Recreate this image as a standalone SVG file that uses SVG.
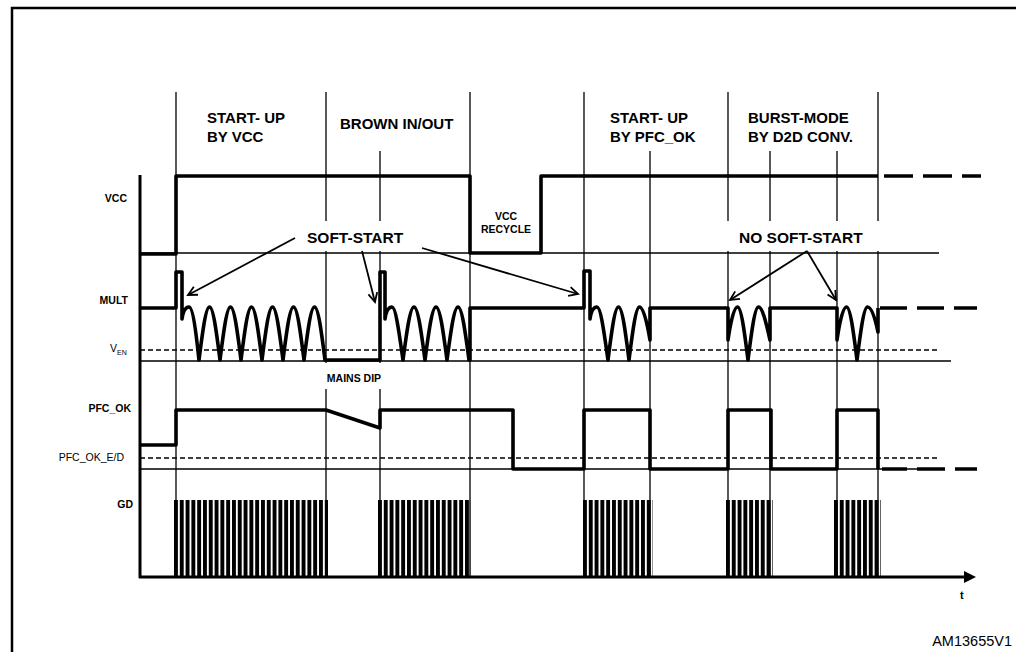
<svg xmlns="http://www.w3.org/2000/svg" width="1016" height="652" viewBox="0 0 1016 652">
<defs>
<style>
.t{font-family:"Liberation Sans",Arial,sans-serif;fill:#000}
.b{font-weight:bold}
.h{font-size:15px;font-weight:bold}
.lab{font-size:10.5px;font-weight:bold}
.thin{stroke:#000;stroke-width:1.3;fill:none}
.dash{stroke:#000;stroke-width:1.3;fill:none;stroke-dasharray:5 3}
.wave{stroke:#000;stroke-width:3.6;fill:none;stroke-linejoin:round}
.wdash{stroke:#000;stroke-width:3.6;fill:none;stroke-dasharray:27 10}
.gd{stroke:#000;stroke-width:77;fill:none;stroke-dasharray:3.9 1.9}
.arr{stroke:#000;stroke-width:1.8;fill:none;marker-end:url(#ah)}
</style>
<marker id="ah" markerUnits="userSpaceOnUse" markerWidth="12" markerHeight="12" refX="10" refY="6" orient="auto">
<path d="M1,1.5 L10,6 L1,10.5" fill="none" stroke="#000" stroke-width="1.8"/>
</marker>
</defs>
<rect width="1016" height="652" fill="#fff"/>
<path d="M12,660 V8 H1020" fill="none" stroke="#000" stroke-width="2.5"/>

<g id="grid">
<path class="thin" d="M176,92 V577 M326,92 V577 M470,92 V577 M584,92 V577 M728,92 V577 M878,92 V577 M380,151 V577 M650,151 V577 M770,151 V577 M837,151 V577"/>
<path class="thin" d="M140,253 H939 M140,361 H951 M140,469 H938"/>
<path class="dash" d="M140,350 H939 M140,458 H938"/>
</g>

<g id="axes">
<path d="M140,175 V578 M139,577 H967" stroke="#000" stroke-width="3" fill="none"/>
<polygon points="964,571 976,577 964,583" fill="#000"/>
<text class="t b" x="960" y="599" font-size="11">t</text>
</g>

<g id="masks" fill="#fff">
<rect x="298" y="221" width="120" height="30"/>
<rect x="726" y="221" width="156" height="30"/>
<rect x="320" y="363" width="68" height="26"/>
</g>

<g id="phases">
<text class="t h" x="207" y="123">START- UP</text>
<text class="t h" x="207" y="141.5">BY VCC</text>
<text class="t h" x="340" y="129">BROWN IN/OUT</text>
<text class="t h" x="610" y="123">START- UP</text>
<text class="t h" x="610" y="141.5">BY PFC_OK</text>
<text class="t h" x="748" y="123">BURST-MODE</text>
<text class="t h" x="748" y="141.5">BY D2D CONV.</text>
</g>

<g id="vcc">
<text class="t lab" x="127" y="201.5" text-anchor="end">VCC</text>
<path class="wave" d="M140,254 H176 V176 H470 V253 H541 V176 H878"/>
<path class="wdash" d="M884,176 H981" style="stroke-dasharray:29 10"/>
<text class="t lab" x="506" y="220" text-anchor="middle">VCC</text>
<text class="t lab" x="506" y="233" text-anchor="middle">RECYCLE</text>
</g>

<g id="mult">
<text class="t lab" x="128" y="303.5" text-anchor="end">MULT</text>
<path class="wave" d="M140,308 H176 V272 H182 V319 C183,312 185.5,307 189,307 C192.8,307 196.1,332.85 199,360
c3.42,-27.15 6.7,-53 10.5,-53 c3.8,0 7.08,25.85 10.5,53
c3.42,-27.15 6.7,-53 10.5,-53 c3.8,0 7.08,25.85 10.5,53
c3.42,-27.15 6.7,-53 10.5,-53 c3.8,0 7.08,25.85 10.5,53
c3.42,-27.15 6.7,-53 10.5,-53 c3.8,0 7.08,25.85 10.5,53
c3.42,-27.15 6.7,-53 10.5,-53 c3.8,0 7.08,25.85 10.5,53
c3.42,-27.15 6.7,-53 10.5,-53 c3.8,0 7.08,25.85 10.5,53
H380 V272 H385 V319 C386,312 388.5,307 392,307 C395.8,307 399.1,332.85 403,360
c3.58,-27.15 7,-53 11,-53 c4,0 7.42,25.85 11,53
c3.58,-27.15 7,-53 11,-53 c4,0 7.42,25.85 11,53
c3.58,-27.15 7,-53 11,-53 c4,0 7.42,25.85 11,53
H470 V308 H584 V271 H590 V319 C591,312 593.5,307 597,307 C600.8,307 604.1,332.85 608,360
c3.42,-27.15 6.7,-53 10.5,-53 c3.8,0 7.08,25.85 10.5,53
c3.42,-27.15 6.7,-53 10.5,-53 C643.3,307 647,322 650,340 V308 H728 V340
C730,326 733.5,307 737.5,307 C741.3,307 744.6,332.85 748,360
c3.42,-27.15 6.7,-53 10.5,-53 C762.3,307 766,322 770,340 V308 H837 V340
C839,326 842.5,307 846.5,307 C850.3,307 853.6,332.85 857,360
c3.42,-27.15 6.7,-53 10.5,-53 C871.3,307 875,318 878,332 V308"/>
<path class="wdash" d="M880,308 H977"/>
<text class="t" x="110" y="352" font-size="10.5" fill="#222">V<tspan font-size="7" dy="3">EN</tspan></text>
<text class="t lab" x="354" y="382" text-anchor="middle">MAINS DIP</text>
</g>

<g id="pfc_ok">
<text class="t lab" x="131" y="411.5" text-anchor="end">PFC_OK</text>
<path class="wave" d="M140,445 H176 V410 H326 L380,428 V410 H513 V469 H584 V410 H650 V469 H728 V410 H771 V469 H837 V410 H878 V469"/>
<path class="wdash" d="M882,469 H977" style="stroke-dasharray:25 10 28 10"/>
<text class="t" x="124" y="461" font-size="10.5" text-anchor="end" fill="#222">PFC_OK_E/D</text>
</g>

<g id="gd">
<text class="t lab" x="133" y="507.5" text-anchor="end">GD</text>
<path class="gd" d="M174,538.5 H328 M378,538.5 H471 M583,538.5 H653 M726,538.5 H773 M834,538.5 H881"/>
</g>

<g id="callouts">
<text class="t b" x="307" y="243" font-size="15.5">SOFT-START</text>
<text class="t b" x="739" y="243" font-size="15.5">NO SOFT-START</text>
</g>

<g id="connectors">
<path class="arr" d="M295,238 L188,295"/>
<path class="arr" d="M362,251 L375,302"/>
<path class="arr" d="M422,248 L578,294"/>
<path class="arr" d="M807,251 L730,300"/>
<path class="arr" d="M807,251 L836,300"/>
</g>

<text class="t" x="1012" y="646" font-size="14.5" text-anchor="end">AM13655V1</text>
</svg>
